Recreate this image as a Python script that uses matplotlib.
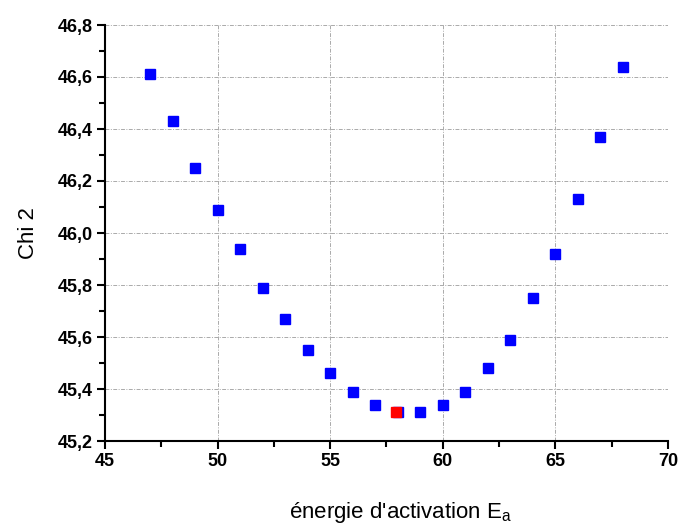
import matplotlib.pyplot as plt
from matplotlib.ticker import MultipleLocator, FuncFormatter

plt.rcParams['font.family'] = ['Liberation Sans', 'DejaVu Sans']

# energie d'activation vs chi2
ea = [47, 48, 49, 50, 51, 52, 53, 54, 55, 56, 57, 58, 59, 60, 61, 62, 63, 64, 65, 66, 67, 68]
chi2 = [46.61, 46.43, 46.25, 46.09, 45.94, 45.79, 45.67, 45.55, 45.46, 45.39, 45.34, 45.31,
        45.31, 45.34, 45.39, 45.48, 45.59, 45.75, 45.92, 46.13, 46.37, 46.64]
best_ea = [57.9]
best_chi2 = [45.31]

fig = plt.figure(figsize=(6.85, 5.24), dpi=100)
ax = fig.add_axes([105/685, 1 - 441/524, 563/685, 416/524])

ax.plot(ea, chi2, 's', color='#0000ff', markersize=7, linestyle='none', zorder=3)
ax.plot(best_ea, best_chi2, 's', color='#ff0000', markersize=7, linestyle='none', zorder=4)

ax.set_xlim(45, 70)
ax.set_ylim(45.2, 46.8)
ax.xaxis.set_major_locator(MultipleLocator(5))
ax.xaxis.set_minor_locator(MultipleLocator(2.5))
ax.yaxis.set_major_locator(MultipleLocator(0.2))
ax.yaxis.set_minor_locator(MultipleLocator(0.1))
ax.yaxis.set_major_formatter(FuncFormatter(lambda v, p: ('%.1f' % v).replace('.', ',')))

ax.grid(True, which='major', color='#aaaaaa', linewidth=0.7, linestyle=(0, (4, 1.5, 1, 1.5)))
ax.set_axisbelow(True)

ax.spines['top'].set_visible(False)
ax.spines['right'].set_visible(False)
ax.spines['left'].set_linewidth(1.5)
ax.spines['bottom'].set_linewidth(1.5)
ax.tick_params(which='major', direction='out', length=6, width=1.5, labelsize=13, pad=3)
ax.tick_params(which='minor', direction='out', length=4, width=1.5)
for lab in ax.get_xticklabels() + ax.get_yticklabels():
    lab.set_fontweight('bold')

ax.set_ylabel('Chi 2', fontsize=16, labelpad=13)
ax.set_xlabel("énergie d'activation E$_\\mathregular{a}$", fontsize=16, labelpad=21, x=0.525)

fig.savefig('out.png', dpi=100)
